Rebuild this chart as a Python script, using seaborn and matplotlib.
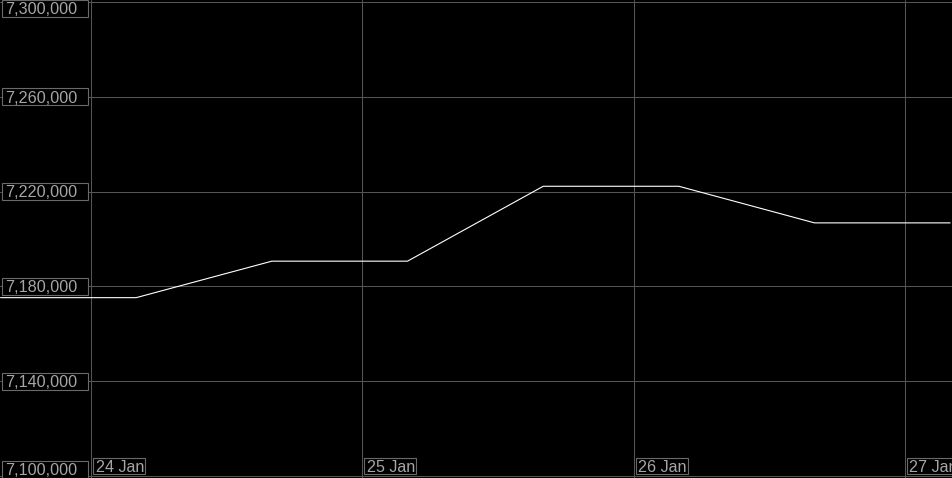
import matplotlib
matplotlib.use("Agg")
import matplotlib.pyplot as plt
from matplotlib.patches import Rectangle
import numpy as np
import pandas as pd
import seaborn as sns

# ---- data ----
times = ["2024-01-23 16:00", "2024-01-24 04:00", "2024-01-24 16:00", "2024-01-25 04:00",
         "2024-01-25 16:00", "2024-01-26 04:00", "2024-01-26 16:00", "2024-01-27 04:00"]
values = [7175250, 7175250, 7190650, 7190650, 7222250, 7222250, 7206800, 7206800]
y_ticks = [7100000, 7140000, 7180000, 7220000, 7260000, 7300000]
y_tick_labels = ["7,100,000", "7,140,000", "7,180,000", "7,220,000", "7,260,000", "7,300,000"]
x_ticks = ["2024-01-24", "2024-01-25", "2024-01-26", "2024-01-27"]
x_tick_labels = ["24 Jan", "25 Jan", "26 Jan", "27 Jan"]

W, H = 953, 478
GRID = "#555555"
TXT = "#a6a6a6"
BOX = "#6a6a6a"

sns.set_theme(style="dark")
plt.rcParams.update({
    "figure.facecolor": "black",
    "axes.facecolor": "black",
    "savefig.facecolor": "black",
})
plt.rcParams["font.family"] = ["Liberation Sans", "DejaVu Sans"]

fig = plt.figure(figsize=(W / 100, H / 100), dpi=100)
ax = fig.add_axes([0, 0, 1, 1])
ax.set_facecolor("black")

df = pd.DataFrame({"time": pd.to_datetime(times), "value": values})
sns.lineplot(data=df, x="time", y="value", ax=ax, color="white", linewidth=0.8)

ax.set_xlim(pd.Timestamp("2024-01-23 15:57"), pd.Timestamp("2024-01-27 04:15"))
ax.set_ylim(7099150, 7300850)
ax.set_yticks(y_ticks)
ax.set_xticks(pd.to_datetime(x_ticks))
ax.grid(True, color=GRID, linewidth=0.75)
ax.tick_params(length=0, labelleft=False, labelbottom=False)
for s in ax.spines.values():
    s.set_visible(False)
ax.set_xlabel("")
ax.set_ylabel("")

FS = 11.6

# y tick labels in boxes inside the plot
x0 = ax.get_xlim()[0]
for v, lab in zip(y_ticks, y_tick_labels):
    yd = ax.transData.transform((x0, v))[1]
    yc = min(max(yd, 8.5), H - 8.5)
    fig.add_artist(Rectangle((2.5 / W, (yc - 8.5) / H), 85 / W, 17 / H,
                             transform=fig.transFigure, facecolor="black",
                             edgecolor=BOX, lw=0.8, zorder=5))
    fig.text(5.5 / W, (yc - 5.8) / H, lab, color=TXT, fontsize=FS,
             va="baseline", ha="left", zorder=6)

# x tick labels in boxes along the bottom
for t, lab in zip(pd.to_datetime(x_ticks), x_tick_labels):
    xd = ax.transData.transform((matplotlib.dates.date2num(t), 7200000))[0]
    fig.add_artist(Rectangle(((xd + 2) / W, 4 / H), 52 / W, 16 / H,
                             transform=fig.transFigure, facecolor="black",
                             edgecolor=BOX, lw=0.8, zorder=5))
    fig.text((xd + 4.5) / W, 6.3 / H, lab, color=TXT, fontsize=FS,
             va="baseline", ha="left", zorder=6)

fig.savefig("out.png", dpi=100)
